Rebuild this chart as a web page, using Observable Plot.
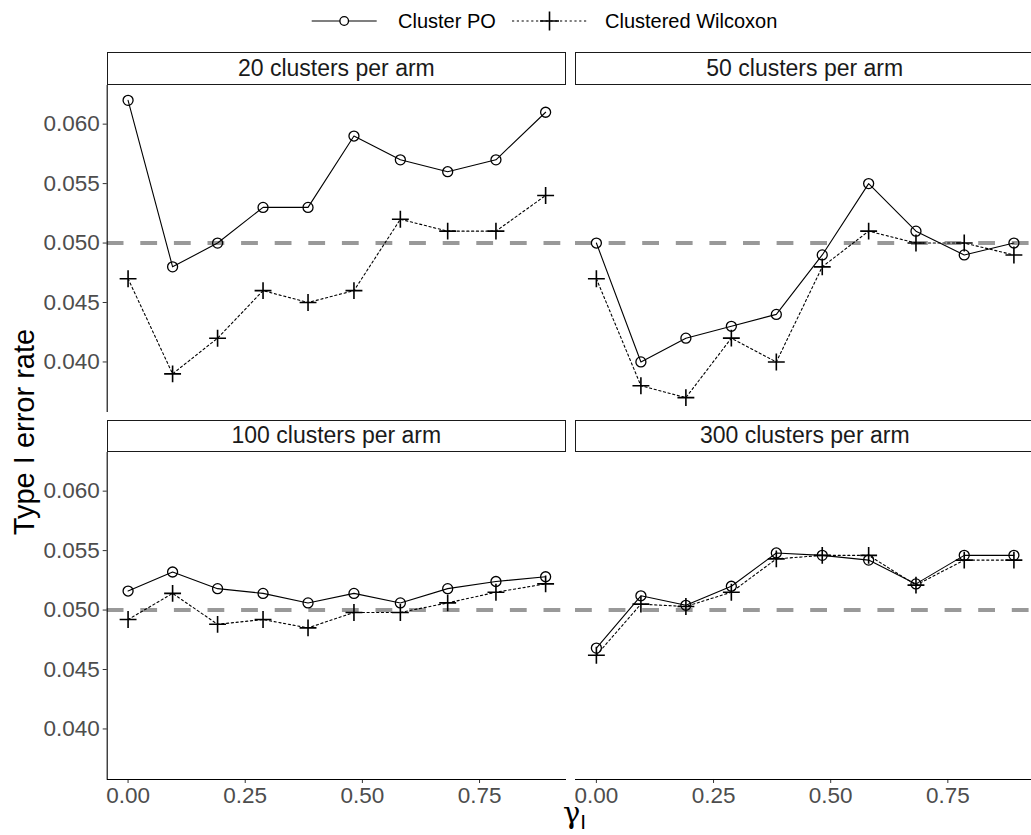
<!DOCTYPE html>
<html><head><meta charset="utf-8">
<script src="https://cdn.jsdelivr.net/npm/d3@7"></script>
<script src="https://cdn.jsdelivr.net/npm/@observablehq/plot@0.6"></script>
<style>
html,body{margin:0;padding:0;background:#fff;}
body{width:1031px;height:835px;overflow:hidden;position:relative;font-family:"Liberation Sans",Arial,Helvetica,sans-serif;}
svg{overflow:visible;}
.strip{position:absolute;box-sizing:border-box;border:1.3px solid #1a1a1a;background:#fff;font-size:23px;color:#1a1a1a;display:flex;align-items:center;justify-content:center;white-space:nowrap;}
.ytitle{position:absolute;left:24px;top:432px;transform:translate(-50%,-50%) rotate(-90deg);font-size:29px;color:#000;white-space:nowrap;}
.xtitle{position:absolute;left:563px;top:804px;font-size:29px;line-height:18px;color:#000;white-space:nowrap;font-family:"DejaVu Serif","Liberation Serif",serif;}
.xtitle sub{font-family:"Liberation Sans",Arial,sans-serif;font-size:21px;line-height:0;vertical-align:-6px;}
</style></head><body>
<div id="root"></div>
<script>
// ---- data ----
const gammaI = [0, 0.095, 0.191, 0.288, 0.384, 0.482, 0.581, 0.682, 0.785, 0.891];
const panelLabels = ["20 clusters per arm", "50 clusters per arm", "100 clusters per arm", "300 clusters per arm"];
const seriesNames = ["Cluster PO", "Clustered Wilcoxon"];
const po20  = [0.062, 0.048, 0.050, 0.053, 0.053, 0.059, 0.057, 0.056, 0.057, 0.061];
const wil20 = [0.047, 0.039, 0.042, 0.046, 0.045, 0.046, 0.052, 0.051, 0.051, 0.054];
const po50  = [0.050, 0.040, 0.042, 0.043, 0.044, 0.049, 0.055, 0.051, 0.049, 0.050];
const wil50 = [0.047, 0.038, 0.037, 0.042, 0.040, 0.048, 0.051, 0.050, 0.050, 0.049];
const po100  = [0.0516, 0.0532, 0.0518, 0.0514, 0.0506, 0.0514, 0.0506, 0.0518, 0.0524, 0.0528];
const wil100 = [0.0492, 0.0514, 0.0488, 0.0492, 0.0485, 0.0498, 0.0498, 0.0506, 0.0515, 0.0522];
const po300  = [0.0468, 0.0512, 0.0504, 0.0520, 0.0548, 0.0546, 0.0542, 0.0522, 0.0546, 0.0546];
const wil300 = [0.0462, 0.0505, 0.0503, 0.0515, 0.0543, 0.0546, 0.0546, 0.0521, 0.0542, 0.0542];
const xTicks = [0, 0.25, 0.5, 0.75];
const yTicks = [0.040, 0.045, 0.050, 0.055, 0.060];
const nominal = [0.05];

const poSeries = [po20, po50, po100, po300];
const wilSeries = [wil20, wil50, wil100, wil300];

// ---- layout ----
const colX = [106.7, 575.1];
const panelW = 459.3;
const rowY = [84.7, 452];
const panelH = 327;
const stripH = 32.3;
const bottomMargin = 60;

function expand([a, b], f = 0.05) { const d = (b - a) * f; return [a - d, b + d]; }
const xDomain = expand(d3.extent(gammaI));
const yDomain = expand(d3.extent([...poSeries.flat(), ...wilSeries.flat()]));

const root = document.getElementById("root");

panelLabels.forEach((label, i) => {
  const col = i % 2, row = Math.floor(i / 2);
  const isLeft = col === 0, isBottom = row === 1;
  const data = gammaI.map((g, j) => ({g, po: poSeries[i][j], w: wilSeries[i][j]}));
  const mL = isLeft ? colX[0] : 0;
  const mB = isBottom ? bottomMargin : 0;
  const marks = [
    Plot.ruleY(nominal, {stroke: "#999999", strokeWidth: 4, strokeDasharray: "16.8,16.8"}),
    Plot.line(data, {x: "g", y: "w", stroke: "black", strokeWidth: 1.1, strokeDasharray: "2.2,2.6"}),
    Plot.line(data, {x: "g", y: "po", stroke: "black", strokeWidth: 1.1}),
    Plot.dot(data, {x: "g", y: "po", r: 5, stroke: "black", strokeWidth: 1.3, fill: "none"}),
    Plot.dot(data, {x: "g", y: "w", symbol: "plus", r: 5.5, stroke: "black", strokeWidth: 1.6})
  ];
  if (isLeft) {
    marks.push(Plot.axisY(yTicks, {tickFormat: d3.format(".3f"), tickSize: 4, tickPadding: 3.5, fontSize: 22.5, fill: "#4D4D4D", stroke: "#333333", label: null}));
    marks.push(Plot.ruleX([xDomain[0]], {stroke: "#000", strokeWidth: 1.1}));
  }
  if (isBottom) {
    marks.push(Plot.axisX(xTicks, {tickFormat: d3.format(".2f"), tickSize: 4, tickPadding: 3.5, fontSize: 22.5, fill: "#4D4D4D", stroke: "#333333", label: null}));
    marks.push(Plot.ruleY([yDomain[0]], {stroke: "#000", strokeWidth: 1.1}));
  }
  const chart = Plot.plot({
    width: mL + panelW,
    height: panelH + mB,
    marginLeft: mL, marginRight: 0, marginTop: 0, marginBottom: mB,
    x: {domain: xDomain, axis: isBottom ? undefined : null},
    y: {domain: yDomain, axis: isLeft ? undefined : null},
    style: {fontFamily: "'Liberation Sans', Arial, sans-serif", background: "transparent", overflow: "visible"},
    marks
  });
  chart.style.position = "absolute";
  chart.style.left = (isLeft ? 0 : colX[1]) + "px";
  chart.style.top = rowY[row] + "px";
  root.appendChild(chart);

  const strip = document.createElement("div");
  strip.className = "strip";
  strip.style.left = colX[col] + "px";
  strip.style.top = (rowY[row] - stripH) + "px";
  strip.style.width = panelW + "px";
  strip.style.height = stripH + "px";
  strip.textContent = label;
  root.appendChild(strip);
});

// axis titles
const yt = document.createElement("div");
yt.className = "ytitle"; yt.textContent = "Type I error rate";
root.appendChild(yt);
const xt = document.createElement("div");
xt.className = "xtitle"; xt.innerHTML = "γ<sub>I</sub>";
root.appendChild(xt);

// legend
const ns = "http://www.w3.org/2000/svg";
const leg = document.createElementNS(ns, "svg");
leg.setAttribute("width", 1031); leg.setAttribute("height", 45);
leg.style.position = "absolute"; leg.style.left = "0px"; leg.style.top = "0px";
const ly = 21;
leg.innerHTML = `
  <line x1="311.7" x2="376.7" y1="${ly}" y2="${ly}" stroke="black" stroke-width="1.1"/>
  <circle cx="344.2" cy="${ly}" r="4.3" fill="white" stroke="black" stroke-width="1.3"/>
  <text x="398" y="${ly}" dy="0.35em" font-size="20" fill="#000" font-family="Liberation Sans, Arial, sans-serif">${seriesNames[0]}</text>
  <line x1="512" x2="588" y1="${ly}" y2="${ly}" stroke="black" stroke-width="1.1" stroke-dasharray="2.2,2.6"/>
  <path d="M540,${ly}h19M549.5,${ly-9.5}v19" stroke="black" stroke-width="1.6"/>
  <text x="605" y="${ly}" dy="0.35em" font-size="20" fill="#000" font-family="Liberation Sans, Arial, sans-serif">${seriesNames[1]}</text>`;
root.appendChild(leg);
</script>
</body></html>
